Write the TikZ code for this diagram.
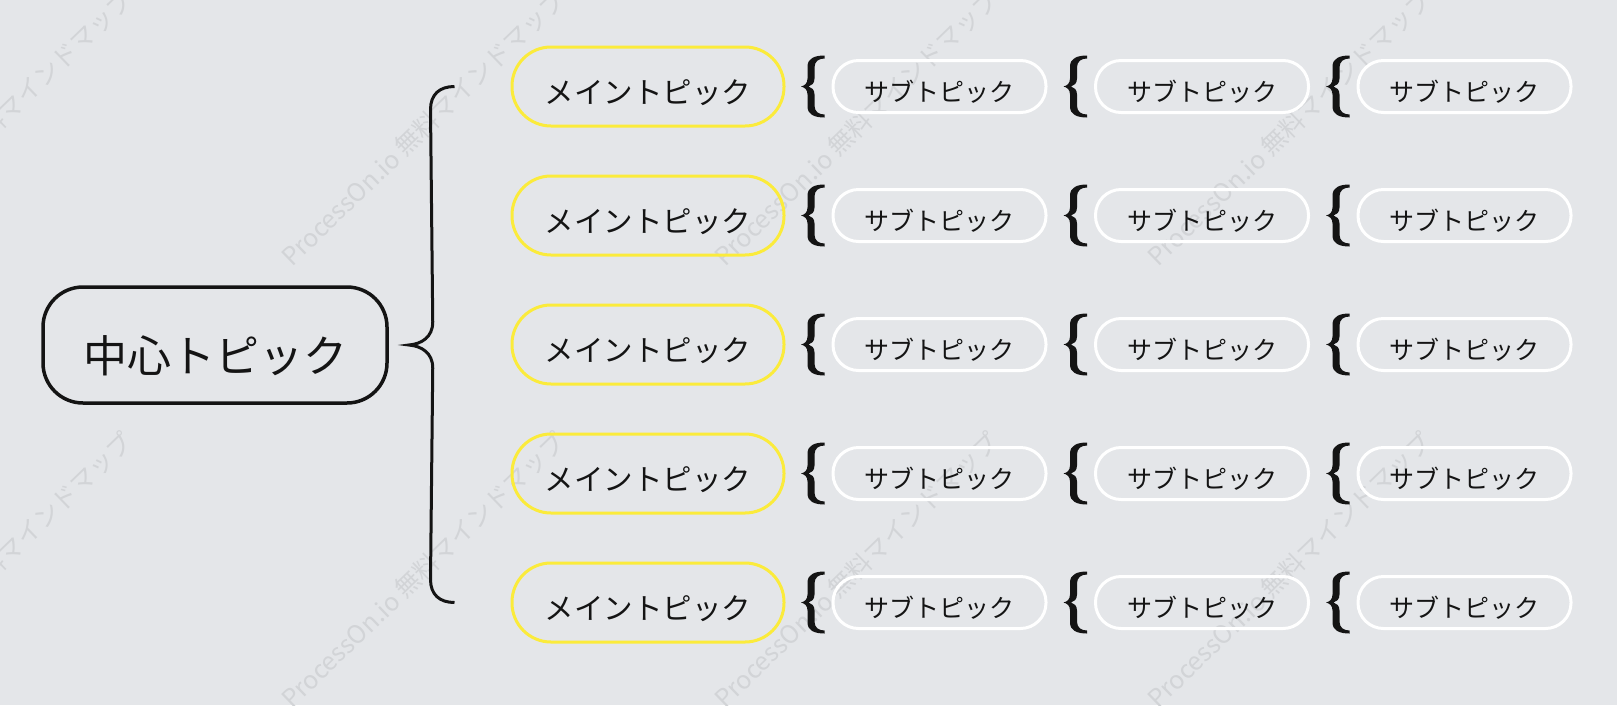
\documentclass[tikz,border=0pt]{standalone}
\usepackage{fontspec}
\newfontfamily\jp{Noto Sans CJK JP}
\usetikzlibrary{calc}
\definecolor{bg}{HTML}{E4E6E9}
\definecolor{wmc}{HTML}{D2D4D7}
\definecolor{ylw}{HTML}{FBEB3B}
\definecolor{ink}{HTML}{141414}
\begin{document}
\begin{tikzpicture}[x=1pt,y=-1pt,
  centerbox/.style={draw=ink, line width=3.5pt, rounded corners=40pt,
    minimum width=344pt, minimum height=116pt, inner sep=0pt,
    font=\jp\fontsize{44}{50}\selectfont, text=ink, text height=55.4pt, text depth=0pt},
  mainbox/.style={draw=ylw, line width=3pt, rounded corners=39pt,
    minimum width=272pt, minimum height=79pt, inner sep=0pt,
    font=\jp\fontsize{29.5}{34}\selectfont, text=ink, text height=34.4pt, text depth=0pt},
  subbox/.style={draw=white, line width=3pt, rounded corners=25.5pt,
    minimum width=213pt, minimum height=52pt, inner sep=0pt,
    font=\jp\fontsize{25}{30}\selectfont, text=ink, text height=29pt, text depth=0pt},
  wm/.style={text=wmc, font=\jp\fontsize{25}{30}\selectfont, anchor=base west,
    rotate=44, inner sep=0pt},
  bigbrace/.style={draw=ink, line width=3pt},
  minibrace/.pic={
    \fill[ink] (0,-31) .. controls (-10,-31) and (-17,-28) .. (-17,-20) -- (-17,-8)
      .. controls (-17,-3) and (-20,-0.8) .. (-23.5,0)
      .. controls (-20,0.8) and (-17,3) .. (-17,8) -- (-17,20)
      .. controls (-17,28) and (-10,31) .. (0,31) -- (0,28)
      .. controls (-6,28) and (-10,25) .. (-10,19) -- (-10,8)
      .. controls (-10,3) and (-13,0.8) .. (-16,0)
      .. controls (-13,-0.8) and (-10,-3) .. (-10,-8) -- (-10,-19)
      .. controls (-10,-25) and (-6,-28) .. (0,-28) -- cycle;
  }
]
\useasboundingbox (0,0) rectangle (1617,705);
\fill[bg] (0,0) rectangle (1617,705);

% watermarks
\foreach \i in {-1,0,1,2} {
  \foreach \j in {0,1} {
    \node[wm] (wm\i\j) at ({292+433*\i},{268+442*\j}) {ProcessOn.io 無料マインドマップ};
  }
}

% center topic
\node[centerbox] (c) at (215,345) {中心トピック};

% main topics and sub topics
\foreach \r in {1,...,5} {
  \node[mainbox] (m\r) at (648,{86.5+129*(\r-1)}) {メイントピック};
  \node[subbox] (s\r a) at (939.5,{86.5+129*(\r-1)}) {サブトピック};
  \node[subbox] (s\r b) at (1202,{86.5+129*(\r-1)}) {サブトピック};
  \node[subbox] (s\r c) at (1464.5,{86.5+129*(\r-1)}) {サブトピック};
  \pic at ($(s\r a.west)+(-7,0)$) {minibrace};
  \pic at ($(s\r b.west)+(-7,0)$) {minibrace};
  \pic at ($(s\r c.west)+(-7,0)$) {minibrace};
}

% big brace
\coordinate (bt) at ($(m1.west)+(-56,0)$);
\coordinate (bb) at ($(m5.west)+(-56,0)$);
\coordinate (tip) at ($(c.east)+(20,0)$);
\draw[bigbrace] (bt) .. controls ($(bt)+(-15,0)$) and ($(bt)+(-24,8)$) .. ($(bt)+(-24,23)$)
  -- ($(tip)+(24,-23)$) .. controls ($(tip)+(24,-8)$) and ($(tip)+(13,-1)$) .. (tip)
  .. controls ($(tip)+(13,1)$) and ($(tip)+(24,8)$) .. ($(tip)+(24,23)$)
  -- ($(bb)+(-24,-23)$) .. controls ($(bb)+(-24,-8)$) and ($(bb)+(-15,0)$) .. (bb);
\end{tikzpicture}
\end{document}
